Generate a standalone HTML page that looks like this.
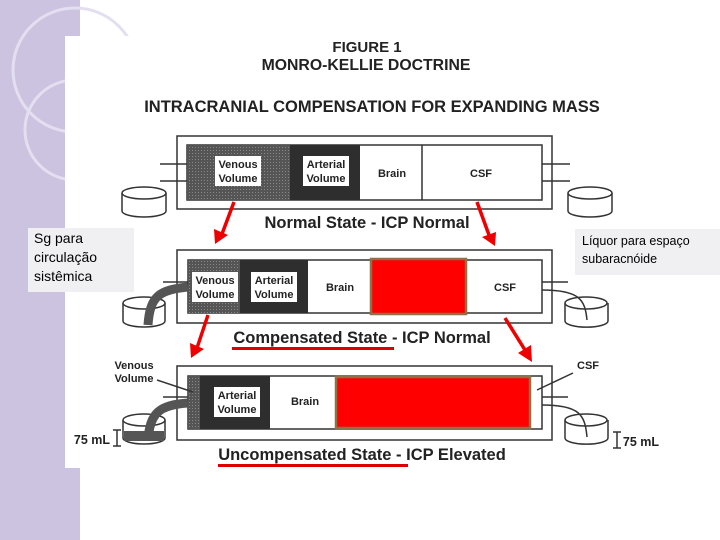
<!DOCTYPE html>
<html><head><meta charset="utf-8"><style>
html,body{margin:0;padding:0;}
body{width:720px;height:540px;position:relative;overflow:hidden;background:#fff;font-family:"Liberation Sans",sans-serif;}
svg{position:absolute;left:0;top:0;}
.lbl{position:absolute;background:#f0f0f2;font-size:14px;line-height:19px;color:#000;}
</style></head><body>
<svg width="720" height="540" viewBox="0 0 720 540" font-family="Liberation Sans, sans-serif">
<defs>
<pattern id="dots" width="3" height="3" patternUnits="userSpaceOnUse"><rect width="3" height="3" fill="#555"/><rect width="1" height="1" fill="#888"/></pattern>
</defs>
<rect x="0" y="0" width="80" height="540" fill="#cbc3df"/>
<circle cx="75" cy="70" r="62" fill="none" stroke="#e4dff0" stroke-width="3"/>
<circle cx="75" cy="130" r="50" fill="none" stroke="#e4dff0" stroke-width="3"/>
<rect x="65" y="36" width="595" height="432" fill="#fff"/>
<g fill="#222" font-weight="bold" text-anchor="middle">
<text x="367" y="52" font-size="15">FIGURE 1</text>
<text x="366" y="70" font-size="15.8">MONRO-KELLIE DOCTRINE</text>
<text x="372" y="112" font-size="16.5">INTRACRANIAL COMPENSATION FOR EXPANDING MASS</text>
<text x="367" y="228" font-size="16.5">Normal State - ICP Normal</text>
<text x="362" y="343" font-size="16.5">Compensated State - ICP Normal</text>
<text x="362" y="460" font-size="16.5">Uncompensated State - ICP Elevated</text>
</g>
<g stroke="#333" stroke-width="1.5" fill="#fff">
<rect x="177" y="136" width="375" height="73"/>
<rect x="187" y="145" width="355" height="55"/>
<rect x="187" y="145" width="103" height="55" fill="url(#dots)" stroke="none"/>
<rect x="290" y="145" width="70" height="55" fill="#2e2e2e" stroke="none"/>
<line x1="422" y1="145" x2="422" y2="200"/>
<line x1="160" y1="164" x2="187" y2="164"/><line x1="160" y1="181" x2="187" y2="181"/>
<line x1="542" y1="164" x2="570" y2="164"/><line x1="542" y1="181" x2="570" y2="181"/>
<path d="M122 193 v18 a22 6 0 0 0 44 0 v-18"/><ellipse cx="144" cy="193" rx="22" ry="6"/>
<path d="M568 193 v18 a22 6 0 0 0 44 0 v-18"/><ellipse cx="590" cy="193" rx="22" ry="6"/>
<rect x="177" y="250" width="375" height="73"/>
<rect x="188" y="260" width="354" height="53"/>
<rect x="188" y="260" width="52" height="53" fill="url(#dots)" stroke="none"/>
<rect x="240" y="260" width="68" height="53" fill="#2e2e2e" stroke="none"/>
<line x1="163" y1="282" x2="188" y2="282"/>
<line x1="542" y1="282" x2="568" y2="282"/>
<path d="M123 303 v18 a21 6 0 0 0 42 0 v-18"/><ellipse cx="144" cy="303" rx="21" ry="6"/>
<path d="M565 303 v18 a21 6 0 0 0 43 0 v-18"/><ellipse cx="586" cy="303" rx="21" ry="6"/>
<path d="M188 287 C160 290 150 295 148 325" stroke="#555" stroke-width="9" fill="none"/>
<path d="M542 290 C580 290 585 300 587 320" fill="none"/>
<rect x="177" y="366" width="375" height="74"/>
<rect x="188" y="376" width="354" height="53"/>
<rect x="188" y="376" width="12" height="53" fill="url(#dots)" stroke="none"/>
<rect x="200" y="376" width="70" height="53" fill="#2e2e2e" stroke="none"/>
<line x1="163" y1="397" x2="188" y2="397"/>
<line x1="542" y1="397" x2="568" y2="397"/>
<path d="M123 420 v18 a21 6 0 0 0 42 0 v-18"/><ellipse cx="144" cy="420" rx="21" ry="6"/>
<path d="M565 420 v18 a21 6 0 0 0 43 0 v-18"/><ellipse cx="586" cy="420" rx="21" ry="6"/>
<path d="M188 403 C160 405 150 412 148 440" stroke="#555" stroke-width="9" fill="none"/>
<rect x="124" y="431" width="40" height="10" fill="#555" stroke="none"/>
<path d="M542 405 C580 405 585 415 587 437" fill="none"/>
<line x1="157" y1="380" x2="193" y2="392"/>
<line x1="573" y1="373" x2="537" y2="390"/>
<line x1="117" y1="430" x2="117" y2="446"/><line x1="113" y1="430" x2="121" y2="430"/><line x1="113" y1="446" x2="121" y2="446"/>
<line x1="617" y1="432" x2="617" y2="448"/><line x1="613" y1="432" x2="621" y2="432"/><line x1="613" y1="448" x2="621" y2="448"/>
</g>
<g font-size="11" font-weight="bold" text-anchor="middle" fill="#222">
<rect x="215" y="156" width="46" height="30" fill="#fff"/>
<text x="238" y="168">Venous</text><text x="238" y="182">Volume</text>
<rect x="303" y="156" width="46" height="30" fill="#fff"/>
<text x="326" y="168">Arterial</text><text x="326" y="182">Volume</text>
<text x="392" y="177">Brain</text><text x="481" y="177">CSF</text>
<rect x="192" y="272" width="46" height="30" fill="#fff"/>
<text x="215" y="284">Venous</text><text x="215" y="298">Volume</text>
<rect x="251" y="272" width="46" height="30" fill="#fff"/>
<text x="274" y="284">Arterial</text><text x="274" y="298">Volume</text>
<text x="340" y="291">Brain</text><text x="505" y="291">CSF</text>
<rect x="214" y="387" width="46" height="30" fill="#fff"/>
<text x="237" y="399">Arterial</text><text x="237" y="413">Volume</text>
<text x="305" y="405">Brain</text>
<text x="134" y="369">Venous</text><text x="134" y="382">Volume</text>
<text x="588" y="369">CSF</text>
<text x="92" y="444" font-size="12.5">75 mL</text>
<text x="641" y="446" font-size="12.5">75 mL</text>
</g>
<rect x="371" y="259" width="95" height="55" fill="#f00" stroke="#8b7346" stroke-width="2.5"/>
<rect x="336" y="377" width="194" height="51" fill="#f00" stroke="#8b7346" stroke-width="2.5"/>
<rect x="232" y="347" width="162" height="3" fill="#d00"/>
<rect x="218" y="464" width="190" height="3" fill="#d00"/>
<g stroke="#e00" stroke-width="3.5" fill="#e00">
<line x1="234" y1="202" x2="222" y2="234"/><polygon points="215,244 214,229 228,235" stroke="none"/>
<line x1="477" y1="202" x2="489" y2="235"/><polygon points="495,246 482,237 496,232" stroke="none"/>
<line x1="208" y1="315" x2="197" y2="348"/><polygon points="191,358 190,343 204,349" stroke="none"/>
<line x1="505" y1="318" x2="525" y2="350"/><polygon points="532,362 518,353 531,345" stroke="none"/>
</g>
</svg>
<div class="lbl" style="left:28px;top:228px;width:100px;height:63px;padding:1px 0 0 6px;">Sg para<br>circulação<br>sistêmica</div>
<div class="lbl" style="left:575px;top:229px;width:145px;height:43px;padding:3px 0 0 7px;font-size:12.5px;line-height:18px;">Líquor para espaço<br>subaracnóide</div>
</body></html>
